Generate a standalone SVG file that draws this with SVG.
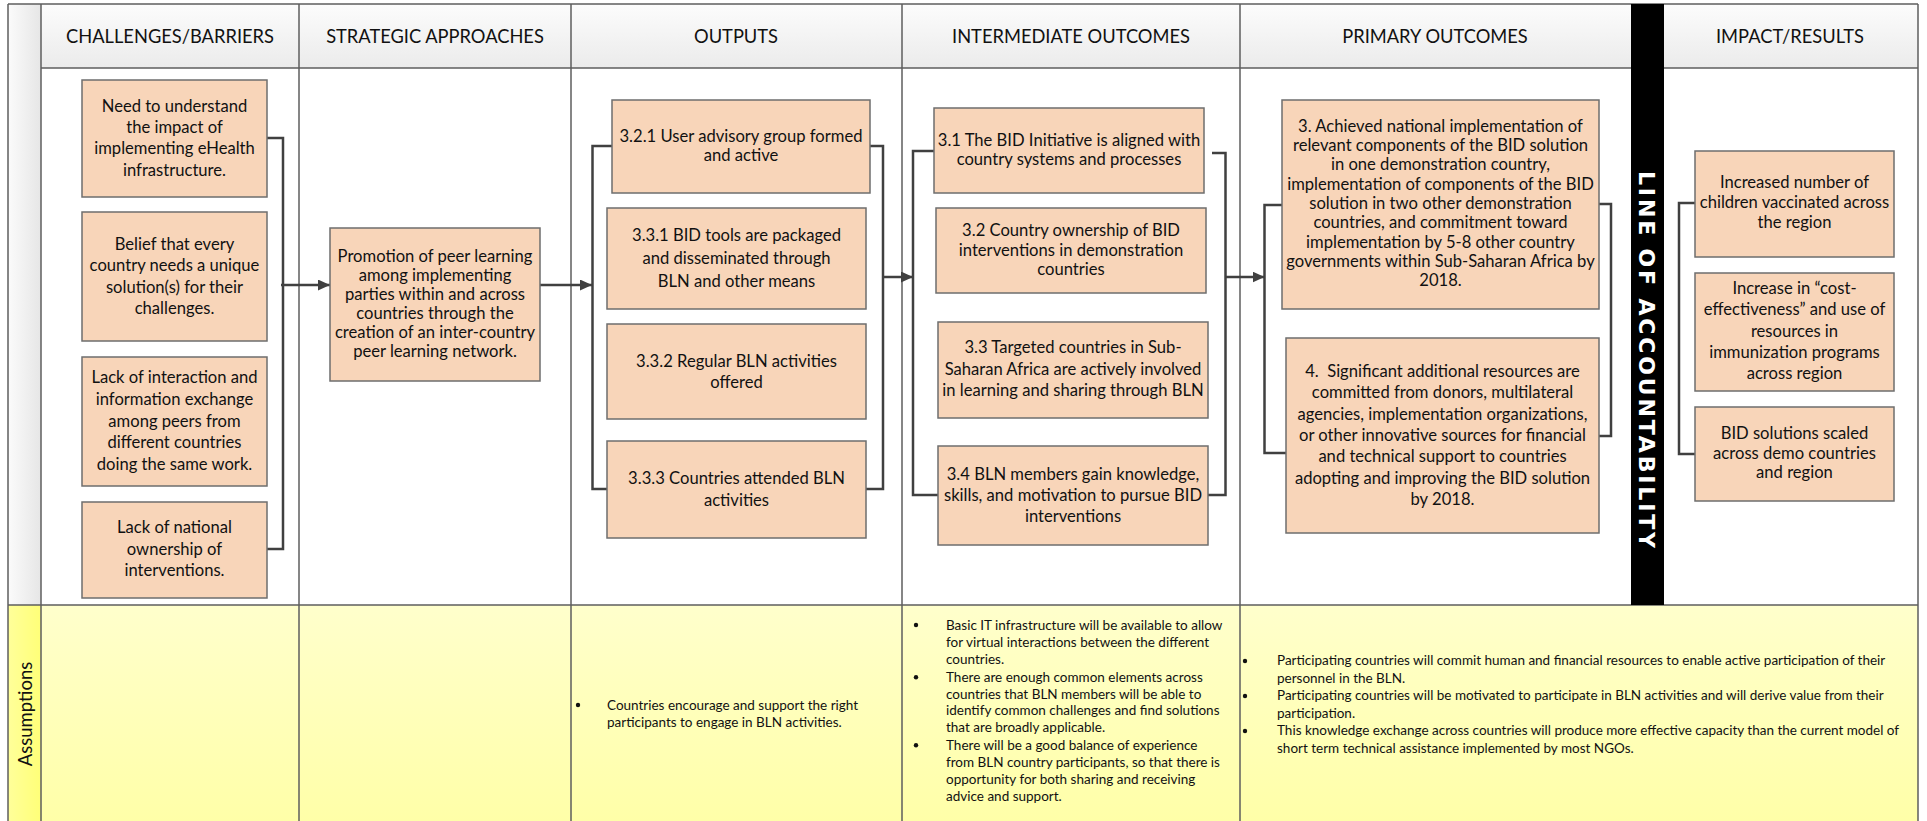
<svg xmlns="http://www.w3.org/2000/svg" width="1927" height="821" viewBox="0 0 1927 821">
<defs>
<linearGradient id="hdr" x1="0" y1="0" x2="0" y2="1"><stop offset="0" stop-color="#fcfcfc"/><stop offset="1" stop-color="#ebebeb"/></linearGradient>
<linearGradient id="strip" x1="0" y1="0" x2="1" y2="0"><stop offset="0" stop-color="#fbfbfb"/><stop offset="1" stop-color="#e6e6e6"/></linearGradient>
<linearGradient id="yel" x1="0" y1="0" x2="0" y2="1"><stop offset="0" stop-color="#ffffcc"/><stop offset="1" stop-color="#ffffa8"/></linearGradient>
<linearGradient id="ystrip" x1="0" y1="0" x2="1" y2="0"><stop offset="0" stop-color="#ffff9a"/><stop offset="1" stop-color="#ffff78"/></linearGradient>
<marker id="arr" markerUnits="userSpaceOnUse" markerWidth="12" markerHeight="11" refX="12" refY="5.5" orient="auto"><path d="M0,0 L12,5.5 L0,11 Z" fill="#404040"/></marker>
</defs>
<style>
.box{fill:#f8d5b9;stroke:#6e6e6e;stroke-width:1.5}
.bt{font-family:Lato,"Open Sans","Liberation Sans",sans-serif;font-size:16.6px;fill:#111;text-anchor:middle}
.hd{font-family:Lato,"Open Sans","Liberation Sans",sans-serif;font-size:18.3px;fill:#111;text-anchor:middle}
.as{font-family:Lato,"Open Sans","Liberation Sans",sans-serif;font-size:13.5px;fill:#111}
.conn{fill:none;stroke:#404040;stroke-width:2.5}
.grid{fill:none;stroke:#5e5e5e;stroke-width:1.5}
.bul{fill:#111}
</style>
<rect x="0" y="0" width="1927" height="821" fill="#ffffff"/>
<g id="frame">
<rect x="8" y="4" width="33" height="601" fill="url(#strip)"/>
<rect x="41" y="4" width="1877" height="64" fill="url(#hdr)"/>
<rect x="41" y="605" width="1877" height="216" fill="url(#yel)"/>
<rect x="8" y="605" width="33" height="216" fill="url(#ystrip)"/>
<line class="grid" x1="8" y1="4" x2="1918" y2="4" stroke="#808080" stroke-width="2"/>
<line class="grid" x1="8" y1="4" x2="8" y2="821"/>
<line class="grid" x1="41" y1="4" x2="41" y2="821"/>
<line class="grid" x1="1918" y1="4" x2="1918" y2="821"/>
<line class="grid" x1="41" y1="68" x2="1918" y2="68"/>
<line class="grid" x1="8" y1="605" x2="1918" y2="605"/>
<line class="grid" x1="299" y1="4" x2="299" y2="821"/>
<line class="grid" x1="571" y1="4" x2="571" y2="821"/>
<line class="grid" x1="902" y1="4" x2="902" y2="821"/>
<line class="grid" x1="1240" y1="4" x2="1240" y2="821"/>
<rect x="1631" y="4" width="33" height="601" fill="#000000"/>
<text class="hd" x="170" y="43">CHALLENGES/BARRIERS</text>
<text class="hd" x="435" y="43">STRATEGIC APPROACHES</text>
<text class="hd" x="736" y="43">OUTPUTS</text>
<text class="hd" x="1071" y="43">INTERMEDIATE OUTCOMES</text>
<text class="hd" x="1435" y="43">PRIMARY OUTCOMES</text>
<text class="hd" x="1790" y="43">IMPACT/RESULTS</text>
<text transform="translate(1647,171) rotate(90)" x="0" y="8.5" font-family="'DejaVu Sans',sans-serif" font-weight="bold" font-size="22" fill="#ffffff" textLength="377" lengthAdjust="spacing">LINE OF ACCOUNTABILITY</text>
<text transform="translate(32,714) rotate(-90)" x="0" y="0" text-anchor="middle" font-family="Lato,'Open Sans',sans-serif" font-size="18.5" fill="#111">Assumptions</text>
</g>
<g id="connectors">
<path class="conn" d="M267,138 H283 V549 H267"/>
<path class="conn" d="M281,285 H330" marker-end="url(#arr)"/>
<path class="conn" d="M540,285 H592" marker-end="url(#arr)"/>
<path class="conn" d="M612,146 H592.5 V489 H607"/>
<path class="conn" d="M870,146 H883 V489 H866"/>
<path class="conn" d="M883,277 H913" marker-end="url(#arr)"/>
<path class="conn" d="M934,151 H913 V495 H938"/>
<path class="conn" d="M1212,153 H1225.5 V495 H1208"/>
<path class="conn" d="M1225.5,277 H1264.5" marker-end="url(#arr)"/>
<path class="conn" d="M1282,205 H1264.5 V453 H1286"/>
<path class="conn" d="M1599,204 H1611 V436 H1596"/>
<path class="conn" d="M1695,203 H1679 V454 H1695"/>
</g>
<g id="ch1"><rect class="box" x="82" y="80" width="185" height="117"/>
<text class="bt"><tspan x="174.5" y="111.7">Need to understand</tspan><tspan x="174.5" y="133">the impact of</tspan><tspan x="174.5" y="154.3">implementing eHealth</tspan><tspan x="174.5" y="175.6">infrastructure.</tspan></text></g>
<g id="ch2"><rect class="box" x="82" y="212" width="185" height="129"/>
<text class="bt"><tspan x="174.5" y="250">Belief that every</tspan><tspan x="174.5" y="271.3">country needs a unique</tspan><tspan x="174.5" y="292.6">solution(s) for their</tspan><tspan x="174.5" y="313.9">challenges.</tspan></text></g>
<g id="ch3"><rect class="box" x="82" y="357" width="185" height="129"/>
<text class="bt"><tspan x="174.5" y="383.3">Lack of interaction and</tspan><tspan x="174.5" y="404.9">information exchange</tspan><tspan x="174.5" y="426.5">among peers from</tspan><tspan x="174.5" y="448.1">different countries</tspan><tspan x="174.5" y="469.7">doing the same work.</tspan></text></g>
<g id="ch4"><rect class="box" x="82" y="502" width="185" height="96"/>
<text class="bt"><tspan x="174.5" y="533.3">Lack of national</tspan><tspan x="174.5" y="554.8">ownership of</tspan><tspan x="174.5" y="576.3">interventions.</tspan></text></g>
<g id="sa1"><rect class="box" x="330" y="228" width="210" height="153"/>
<text class="bt"><tspan x="435" y="262">Promotion of peer learning</tspan><tspan x="435" y="281">among implementing</tspan><tspan x="435" y="300">parties within and across</tspan><tspan x="435" y="319">countries through the</tspan><tspan x="435" y="338">creation of an inter-country</tspan><tspan x="435" y="357">peer learning network.</tspan></text></g>
<g id="o321"><rect class="box" x="612" y="100" width="258" height="93"/>
<text class="bt"><tspan x="741" y="141.7">3.2.1 User advisory group formed</tspan><tspan x="741" y="161">and active</tspan></text></g>
<g id="o331"><rect class="box" x="607" y="208" width="259" height="101"/>
<text class="bt"><tspan x="736.5" y="240.7">3.3.1 BID tools are packaged</tspan><tspan x="736.5" y="263.5">and disseminated through</tspan><tspan x="736.5" y="286.5">BLN and other means</tspan></text></g>
<g id="o332"><rect class="box" x="607" y="324" width="259" height="95"/>
<text class="bt"><tspan x="736.5" y="366.7">3.3.2 Regular BLN activities</tspan><tspan x="736.5" y="387.5">offered</tspan></text></g>
<g id="o333"><rect class="box" x="607" y="441" width="259" height="97"/>
<text class="bt"><tspan x="736.5" y="484.3">3.3.3 Countries attended BLN</tspan><tspan x="736.5" y="505.7">activities</tspan></text></g>
<g id="i31"><rect class="box" x="934" y="108" width="270" height="85"/>
<text class="bt"><tspan x="1069" y="145.7">3.1 The BID Initiative is aligned with</tspan><tspan x="1069" y="165">country systems and processes</tspan></text></g>
<g id="i32"><rect class="box" x="936" y="208" width="270" height="85"/>
<text class="bt"><tspan x="1071" y="235.7">3.2 Country ownership of BID</tspan><tspan x="1071" y="255.5">interventions in demonstration</tspan><tspan x="1071" y="275.2">countries</tspan></text></g>
<g id="i33"><rect class="box" x="938" y="322" width="270" height="96"/>
<text class="bt"><tspan x="1073" y="353.3">3.3 Targeted countries in Sub-</tspan><tspan x="1073" y="374.8">Saharan Africa are actively involved</tspan><tspan x="1073" y="396.3">in learning and sharing through BLN</tspan></text></g>
<g id="i34"><rect class="box" x="938" y="446" width="270" height="99"/>
<text class="bt"><tspan x="1073" y="480">3.4 BLN members gain knowledge,</tspan><tspan x="1073" y="500.8">skills, and motivation to pursue BID</tspan><tspan x="1073" y="521.6">interventions</tspan></text></g>
<g id="p3"><rect class="box" x="1282" y="100" width="317" height="209"/>
<text class="bt"><tspan x="1440.5" y="131.7">3. Achieved national implementation of</tspan><tspan x="1440.5" y="151">relevant components of the BID solution</tspan><tspan x="1440.5" y="170.3">in one demonstration country,</tspan><tspan x="1440.5" y="189.6">implementation of components of the BID</tspan><tspan x="1440.5" y="208.9">solution in two other demonstration</tspan><tspan x="1440.5" y="228.2">countries, and commitment toward</tspan><tspan x="1440.5" y="247.5">implementation by 5-8 other country</tspan><tspan x="1440.5" y="266.8">governments within Sub-Saharan Africa by</tspan><tspan x="1440.5" y="286.1">2018.</tspan></text></g>
<g id="p4"><rect class="box" x="1286" y="338" width="313" height="195"/>
<text class="bt"><tspan x="1442.5" y="376.7">4. &#160;Significant additional resources are</tspan><tspan x="1442.5" y="398.1">committed from donors, multilateral</tspan><tspan x="1442.5" y="419.5">agencies, implementation organizations,</tspan><tspan x="1442.5" y="440.9">or other innovative sources for financial</tspan><tspan x="1442.5" y="462.3">and technical support to countries</tspan><tspan x="1442.5" y="483.7">adopting and improving the BID solution</tspan><tspan x="1442.5" y="505.1">by 2018.</tspan></text></g>
<g id="r1"><rect class="box" x="1695" y="151" width="199" height="106"/>
<text class="bt"><tspan x="1794.5" y="188.3">Increased number of</tspan><tspan x="1794.5" y="208">children vaccinated across</tspan><tspan x="1794.5" y="227.7">the region</tspan></text></g>
<g id="r2"><rect class="box" x="1695" y="273" width="199" height="118"/>
<text class="bt"><tspan x="1794.5" y="294">Increase in “cost-</tspan><tspan x="1794.5" y="315.3">effectiveness” and use of</tspan><tspan x="1794.5" y="336.6">resources in</tspan><tspan x="1794.5" y="357.9">immunization programs</tspan><tspan x="1794.5" y="379.2">across region</tspan></text></g>
<g id="r3"><rect class="box" x="1695" y="407" width="199" height="94"/>
<text class="bt"><tspan x="1794.5" y="439.3">BID solutions scaled</tspan><tspan x="1794.5" y="458.8">across demo countries</tspan><tspan x="1794.5" y="478.3">and region</tspan></text></g>
<g id="as-outputs">
<circle class="bul" cx="578" cy="705" r="2.2"/>
<text class="as"><tspan x="607" y="709.5">Countries encourage and support the right</tspan><tspan x="607" y="727">participants to engage in BLN activities.</tspan></text>
</g>
<g id="as-intermediate">
<circle class="bul" cx="916" cy="625" r="2.2"/>
<circle class="bul" cx="916" cy="677.2" r="2.2"/>
<circle class="bul" cx="916" cy="745.3" r="2.2"/>
<text class="as"><tspan x="946" y="629.5">Basic IT infrastructure will be available to allow</tspan><tspan x="946" y="646.7">for virtual interactions between the different</tspan><tspan x="946" y="663.9">countries.</tspan><tspan x="946" y="681.5">There are enough common elements across</tspan><tspan x="946" y="698.5">countries that BLN members will be able to</tspan><tspan x="946" y="715.4">identify common challenges and find solutions</tspan><tspan x="946" y="732.3">that are broadly applicable.</tspan><tspan x="946" y="749.7">There will be a good balance of experience</tspan><tspan x="946" y="766.6">from BLN country participants, so that there is</tspan><tspan x="946" y="783.5">opportunity for both sharing and receiving</tspan><tspan x="946" y="800.9">advice and support.</tspan></text>
</g>
<g id="as-primary">
<circle class="bul" cx="1245" cy="661" r="2.2"/>
<circle class="bul" cx="1245" cy="696" r="2.2"/>
<circle class="bul" cx="1245" cy="731" r="2.2"/>
<text class="as"><tspan x="1277" y="665">Participating countries will commit human and financial resources to enable active participation of their</tspan><tspan x="1277" y="682.5">personnel in the BLN.</tspan><tspan x="1277" y="700">Participating countries will be motivated to participate in BLN activities and will derive value from their</tspan><tspan x="1277" y="717.5">participation.</tspan><tspan x="1277" y="735">This knowledge exchange across countries will produce more effective capacity than the current model of</tspan><tspan x="1277" y="752.5">short term technical assistance implemented by most NGOs.</tspan></text>
</g>
</svg>
